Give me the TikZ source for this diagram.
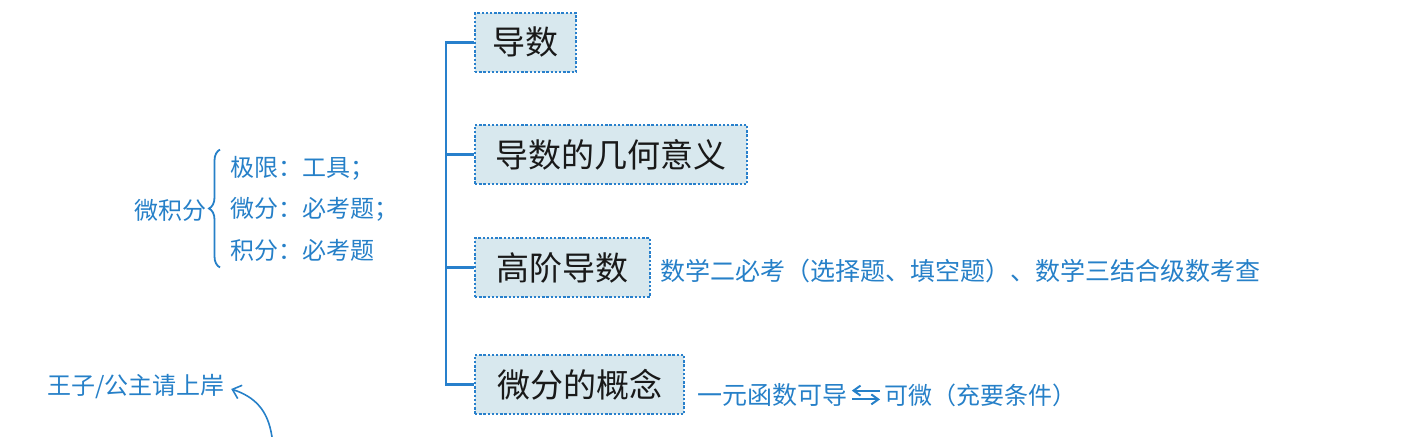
\documentclass[tikz,border=0pt]{standalone}
\usepackage{fontspec}
\newfontfamily\cjk{Noto Sans CJK SC}
\usetikzlibrary{decorations.pathreplacing,arrows.meta}
\definecolor{lineblue}{RGB}{40,128,204}
\definecolor{boxfill}{RGB}{216,232,238}
\definecolor{handblue}{RGB}{38,128,200}
\begin{document}
\begin{tikzpicture}[x=0.5pt,y=-0.5pt]
\tikzset{
 topic/.style={draw=lineblue, line width=1pt, dash pattern=on 1.2pt off 0.9pt, fill=boxfill, minimum height=29.5pt, inner sep=0pt, font=\cjk\fontsize{16.5}{18}\selectfont, text=black!90},
 hand/.style={text=handblue, font=\cjk\fontsize{12}{14}\selectfont, inner sep=0pt},
 handbig/.style={hand, font=\cjk\fontsize{12.5}{14}\selectfont},
 link/.style={draw=lineblue, line width=1.1pt},
 pen/.style={draw=handblue, line width=0.8pt}
}
\useasboundingbox (0,0) rectangle (1401,437);
\node[topic, minimum width=50.5pt] (d1) at (525.5,42.5) {导数};
\node[topic, minimum width=136pt] (d2) at (611,154.5) {导数的几何意义};
\node[topic, minimum width=87.5pt] (d3) at (562.5,267.5) {高阶导数};
\node[topic, minimum width=104.5pt] (d4) at (579.5,384.5) {微分的概念};
\coordinate (spine) at (446,0);
\draw[link] (d1.west) -| (spine |- d4.west) -- (d4.west);
\draw[link] (d2.west) -- (spine |- d2.west);
\draw[link] (d3.west) -- (spine |- d3.west);
% annotations
\node[handbig, anchor=west] (n3) at (660,271) {数学二必考（选择题、填空题）、数学三结合级数考查};
\node[handbig, anchor=west] (n4a) at (697,395) {一元函数可导};
\node[hand, anchor=west] (n4b) at (884,395) {可微（充要条件）};
\draw[pen, line width=1pt, -{Straight Barb[length=3.5pt,width=5pt]}] ([xshift=-2pt,yshift=2.2pt]n4b.west) -- ([xshift=2pt,yshift=2.2pt]n4a.east);
\draw[pen, line width=1pt, -{Straight Barb[length=3.5pt,width=5pt]}] ([xshift=2pt,yshift=-2.2pt]n4a.east) -- ([xshift=-2pt,yshift=-2.2pt]n4b.west);
% left
\node[hand, anchor=east] (calc) at (207,210) {微积分};
\node[hand, anchor=west] (i1) at (230,168) {极限：工具；};
\node[hand, anchor=west] (i2) at (230,209) {微分：必考题；};
\node[hand, anchor=west] (i3) at (230,250) {积分：必考题};
\draw[pen, line width=0.9pt, decorate, decoration={brace, amplitude=5.5pt}] ([xshift=-5pt,yshift=-3pt]i3.south west) -- ([xshift=-5pt,yshift=3pt]i1.north west);
% prince
\node[hand, anchor=west] (pr) at (47,387) {王子/公主请上岸};
\coordinate (cs) at (272,437);
\draw[pen, -{Straight Barb[length=4pt,width=7pt]}] (cs) .. controls (268,410) and (255,397) .. ([xshift=3pt,yshift=-1pt]pr.east);
\end{tikzpicture}
\end{document}
